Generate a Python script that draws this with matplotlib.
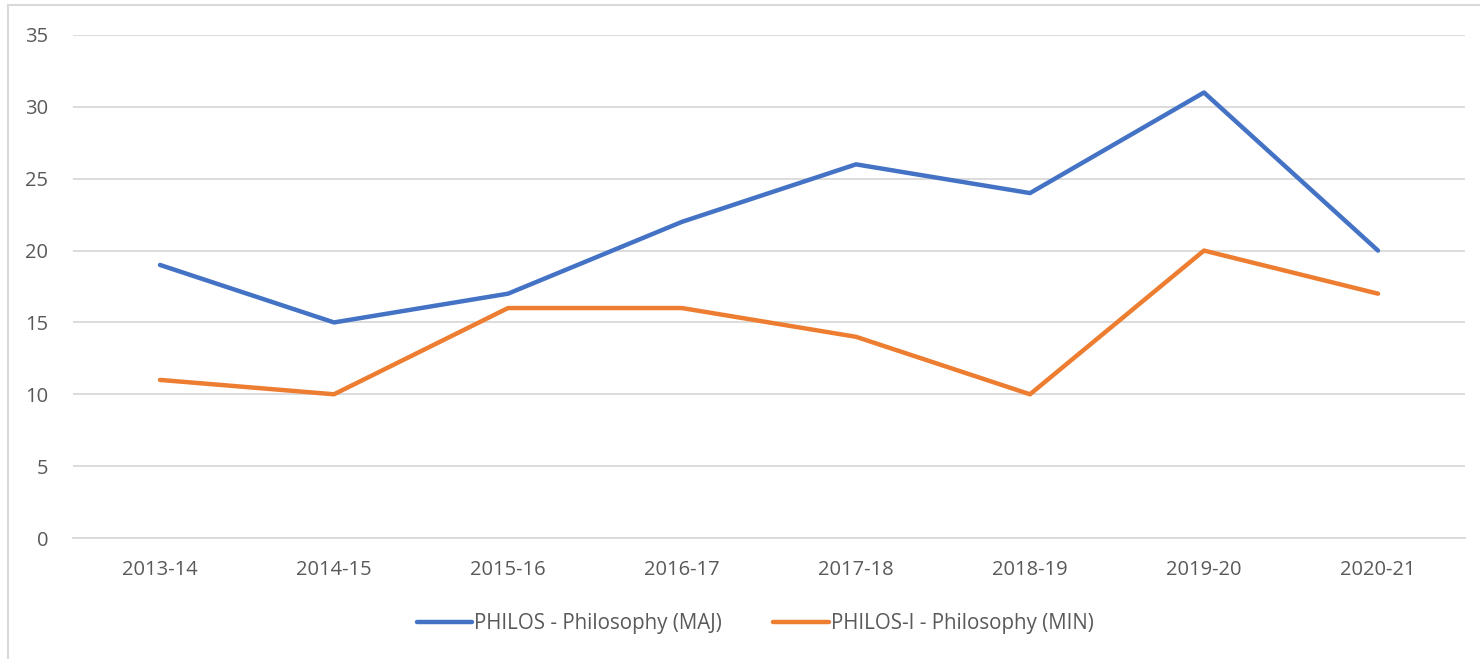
import matplotlib
matplotlib.use("Agg")
import matplotlib.pyplot as plt
from matplotlib.patches import Rectangle

years = ["2013-14", "2014-15", "2015-16", "2016-17", "2017-18", "2018-19", "2019-20", "2020-21"]
maj = [19, 15, 17, 22, 26, 24, 31, 20]
minor = [11, 10, 16, 16, 14, 10, 20, 17]
yticks = [0, 5, 10, 15, 20, 25, 30, 35]

plt.rcParams['font.family'] = ['Open Sans', 'DejaVu Sans']

fig = plt.figure(figsize=(14.8, 6.59), dpi=100)
ax = fig.add_axes([73/1480, 1-538/659, (1465-73)/1480, (538-35)/659])

x = list(range(len(years)))
ax.plot(x, maj, color="#4472C4", lw=3.2, solid_capstyle="round", solid_joinstyle="round",
        label="PHILOS - Philosophy (MAJ)")
ax.plot(x, minor, color="#ED7D31", lw=3.2, solid_capstyle="round", solid_joinstyle="round",
        label="PHILOS-I - Philosophy (MIN)")

ax.set_xlim(-0.5, len(years)-0.5)
ax.set_ylim(0, 35)
ax.set_yticks(yticks)
ax.set_xticks(x)
ax.set_xticklabels(years)
ax.grid(axis="y", color="#D9D9D9", lw=1.3)
ax.set_axisbelow(True)
for s in ["top", "right", "left"]:
    ax.spines[s].set_visible(False)
ax.spines["bottom"].set_color("#D9D9D9")
ax.spines["bottom"].set_linewidth(1.3)
ax.tick_params(axis="both", length=0, colors="#595959", labelsize=14.5)
ax.tick_params(axis="y", pad=18)
ax.tick_params(axis="x", pad=16)

leg = ax.legend(loc="upper center", bbox_to_anchor=(0.49, -0.112), ncol=2, frameon=False,
                fontsize=14.8, handlelength=2.7, handletextpad=0.1, columnspacing=2.5)
for t in leg.get_texts():
    t.set_color("#595959")

fig.patches.append(Rectangle((8/1480, -0.1), 1.2, 1-5/659+0.1, transform=fig.transFigure,
                             fill=False, edgecolor="#D9D9D9", lw=1.5))

fig.savefig("out.png", dpi=100)
